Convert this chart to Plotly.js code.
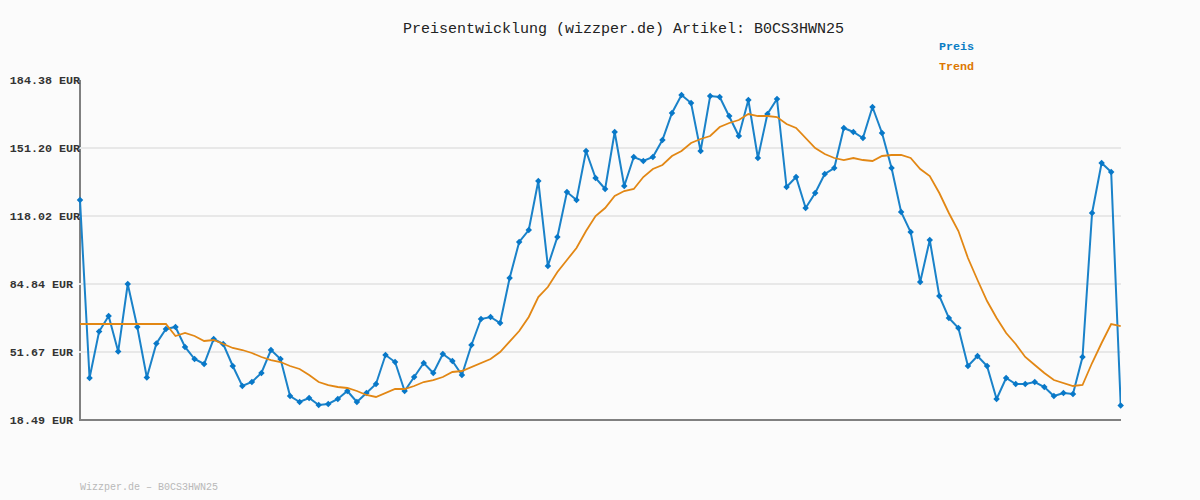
<!DOCTYPE html>
<html>
<head>
<meta charset="utf-8">
<script src="https://cdn.plot.ly/plotly-3.0.1.min.js"></script>
<style>
  html, body { margin: 0; padding: 0; background: #fbfbfb; }
</style>
</head>
<body>
<div id="plot" style="width:1200px;height:500px;"></div>
<script>
const preis = [125.83, 38.98, 61.67, 69.23, 51.9, 84.84, 63.86, 39.22, 55.81, 62.89,
	63.86, 54.11, 48.25, 45.81, 58.01, 55.57, 44.83, 35.08, 37.03, 41.42,
	52.64, 48.25, 30.2, 27.27, 29.22, 25.81, 26.29, 28.73, 32.64, 27.27,
	31.66, 36.05, 50.2, 46.79, 32.64, 39.47, 46.3, 41.42, 50.69, 47.27,
	40.44, 55.08, 67.77, 68.74, 65.81, 87.77, 105.34, 111.19, 135.1, 93.63,
	107.78, 129.73, 125.83, 149.74, 136.56, 131.2, 159.01, 132.66, 146.81, 144.86,
	146.81, 155.1, 168.28, 177.06, 173.16, 149.74, 176.57, 176.08, 166.81, 157.05,
	174.62, 146.32, 167.79, 175.11, 132.17, 137.05, 121.92, 129.24, 138.51, 141.44,
	160.96, 159.01, 156.08, 171.2, 158.52, 141.44, 119.97, 110.21, 85.82, 106.31,
	78.99, 68.25, 63.38, 44.83, 49.71, 44.83, 28.73, 38.98, 36.05, 36.05,
	37.03, 34.59, 30.2, 31.66, 31.17, 49.23, 119.49, 143.88, 139.49, 25.56]

const trend = [65.33, 65.33, 65.33, 65.33, 65.33, 65.33, 65.33, 65.33, 65.33, 65.33,
	59.47, 60.94, 59.47, 57.03, 57.52, 55.57, 53.62, 52.64, 51.18, 49.23,
	47.76, 46.79, 44.83, 43.37, 40.44, 37.03, 35.56, 34.59, 34.1, 32.64,
	30.69, 29.71, 31.66, 33.61, 33.61, 35.08, 37.03, 38, 39.47, 41.91,
	42.4, 44.35, 46.3, 48.25, 51.67, 56.54, 61.91, 68.74, 78.5, 83.38,
	90.7, 96.55, 102.41, 110.7, 118.02, 121.92, 127.78, 130.22, 131.2, 137.05,
	140.95, 142.9, 147.3, 149.74, 153.64, 155.59, 157.05, 161.45, 163.4, 164.86,
	167.79, 166.81, 166.81, 166.32, 162.91, 160.96, 156.08, 151.2, 148.27, 146.32,
	145.34, 146.32, 145.34, 144.86, 147.3, 147.78, 147.78, 146.32, 140.95, 137.54,
	129.24, 119.49, 110.7, 97.53, 86.8, 76.55, 68.25, 60.94, 55.57, 49.23,
	45.32, 41.42, 38, 36.54, 35.08, 35.56, 46.3, 56.06, 65.33, 64.35]

const tickWerte = [18.49, 51.67, 84.84, 118.02, 151.20, 184.38]
// das Leerzeichen am Ende schiebt die kurzen Labels nach links
const tickTexte = ['18.49 EUR\u00a0', '51.67 EUR\u00a0', '84.84 EUR\u00a0', '118.02 EUR', '151.20 EUR', '184.38 EUR']

const index = preis.map(function (p, i) { return i })
const schrift = '"Liberation Mono", monospace'

const tracePreis = {
	x: index,
	y: preis,
	name: 'Preis',
	type: 'scatter',
	mode: 'lines+markers',
	line: {color: '#1a82c9', width: 2},
	marker: {color: '#0878c8', size: 5, symbol: 'diamond'},
	cliponaxis: false
}

const traceTrend = {
	x: index,
	y: trend,
	name: 'Trend',
	type: 'scatter',
	mode: 'lines',
	line: {color: '#e28714', width: 1.8},
	cliponaxis: false
}

const achse = {color: '#808080', width: 2}

const layout = {
	width: 1200,
	height: 500,
	margin: {l: 79.3, r: 79.4, t: 79, b: 79},
	paper_bgcolor: '#fbfbfb',
	plot_bgcolor: '#fbfbfb',
	showlegend: false,
	title: {
		text: 'Preisentwicklung (wizzper.de) Artikel: B0CS3HWN25',
		font: {family: schrift, size: 15, color: '#222222'},
		x: 0.5196, xanchor: 'center',
		y: 0.944, yanchor: 'middle'
	},
	xaxis: {
		range: [-0.105, 109.03],
		showticklabels: false,
		ticks: '',
		showgrid: false,
		zeroline: false,
		showline: false
	},
	yaxis: {
		range: [18.002, 184.868],
		tickvals: tickWerte,
		ticktext: tickTexte,
		tickfont: {family: schrift, size: 11.7, color: '#333333', weight: 'bold'},
		ticks: '',
		ticklabelstandoff: -2,
		gridcolor: '#e8e8e8',
		gridwidth: 2,
		zeroline: false,
		showline: false
	},
	// Achsenlinien liegen genau auf dem ersten Punkt und dem untersten Tick
	shapes: [
		{type: 'line', layer: 'below', xref: 'x', yref: 'y', x0: 0, x1: 0, y0: tickWerte[0], y1: tickWerte[5], line: achse},
		{type: 'line', layer: 'below', xref: 'paper', yref: 'y', x0: 0, x1: 1, y0: tickWerte[0], y1: tickWerte[0], line: achse}
	],
	annotations: [
		{text: 'Preis', xref: 'paper', yref: 'paper', x: 0.8256, y: 1.0945, xanchor: 'left', yanchor: 'middle', showarrow: false,
			xshift: -2, font: {family: schrift, size: 11.7, color: '#0a7cc4', weight: 'bold'}},
		{text: 'Trend', xref: 'paper', yref: 'paper', x: 0.8256, y: 1.036, xanchor: 'left', yanchor: 'middle', showarrow: false,
			xshift: -2, font: {family: schrift, size: 11.7, color: '#dd7700', weight: 'bold'}},
		{text: 'Wizzper.de – B0CS3HWN25', xref: 'paper', yref: 'paper', x: 0, y: -0.193, xanchor: 'left', yanchor: 'middle', showarrow: false,
			xshift: -1, font: {family: schrift, size: 10, color: '#b8b8b8'}}
	]
}

Plotly.newPlot('plot', [tracePreis, traceTrend], layout, {displayModeBar: false})
</script>
</body>
</html>
